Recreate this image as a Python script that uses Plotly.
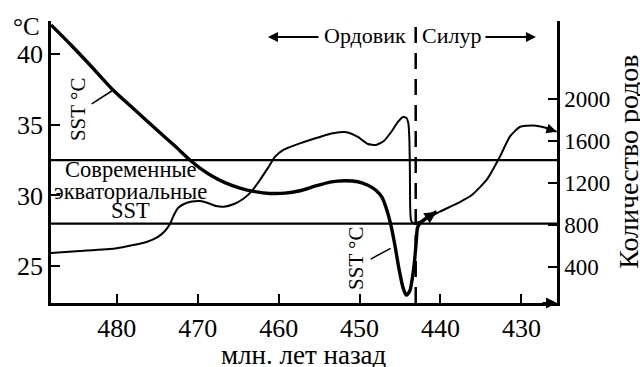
import plotly.graph_objects as go

# ---- data ----
sst_age = [488.13, 485.78, 483.31, 480.47, 477.75, 475.03, 472.81, 470.96, 469.72, 468.24,
           466.64, 464.78, 462.93, 461.08, 459.22, 457.37, 455.52, 453.67, 451.81, 450.21,
           448.97, 447.98, 447.24, 446.62, 446.13, 445.63, 445.14, 444.65, 444.22, 443.79,
           443.42, 443.17, 442.98, 442.85, 442.54, 441.55, 440.48]
sst_temp = [42.08, 40.73, 39.24, 37.47, 36.05, 34.63, 33.50, 32.51, 31.94, 31.38,
            30.91, 30.52, 30.27, 30.14, 30.16, 30.33, 30.65, 30.94, 31.04, 30.97,
            30.72, 30.37, 29.87, 28.95, 27.89, 26.47, 24.84, 23.50, 22.93, 23.22,
            24.35, 25.56, 26.84, 27.69, 28.02, 28.47, 28.84]

genus_age = [488.13, 484.55, 480.01, 476.31, 474.91, 474.05, 473.43, 472.94, 472.44, 471.70,
             470.71, 469.72, 468.73, 467.74, 466.76, 465.52, 464.40, 463.29, 462.31, 461.32,
             460.46, 459.47, 457.37, 454.90, 453.29, 451.60, 450.21, 448.97, 447.98, 446.99,
             446.00, 445.26, 444.64, 444.21, 443.96, 443.84, 443.78, 443.75, 443.65, 443.41,
             442.54, 440.07, 437.60, 436.12, 434.30, 432.66, 431.43, 430.19, 428.54, 426.89,
             425.66]
genus_count = [531, 550, 576, 636, 684, 741, 808, 894, 961, 999,
               1023, 1028, 1009, 980, 973, 999, 1047, 1124, 1229, 1344,
               1449, 1515, 1579, 1640, 1675, 1685, 1640, 1573, 1563, 1602,
               1697, 1783, 1831, 1822, 1765, 1610, 1324, 989, 846, 818,
               830, 926, 1018, 1085, 1229, 1451, 1643, 1735, 1750, 1726,
               1690]

x_ticks = [480, 470, 460, 450, 440, 430]
t_ticks = [25, 30, 35, 40]
g_ticks = [400, 800, 1200, 1600, 2000]
modern_sst_levels = [32.5, 28.0]
boundary_age = 443.06

X_RANGE = [488.13, 425.6]
T_RANGE = [22.375, 42.36]
G_RANGE = [53, 2748]

FONT = "Liberation Serif"

fig = go.Figure()
fig.add_trace(go.Scatter(x=sst_age, y=sst_temp, mode="lines", yaxis="y",
                         line=dict(color="black", width=3.4, shape="spline", smoothing=0.6),
                         showlegend=False, hoverinfo="skip"))
fig.add_trace(go.Scatter(x=genus_age, y=genus_count, mode="lines", yaxis="y2",
                         line=dict(color="black", width=2, shape="spline", smoothing=0.5),
                         showlegend=False, hoverinfo="skip"))

shapes = []
for lvl in modern_sst_levels:
    shapes.append(dict(type="line", xref="paper", yref="y", x0=0, x1=1, y0=lvl, y1=lvl,
                       line=dict(color="black", width=2.2)))
shapes.append(dict(type="line", xref="x", yref="paper", x0=boundary_age, x1=boundary_age,
                   y0=0, y1=0.979, line=dict(color="black", width=2.5, dash="16px,10px")))
# leader lines for labels
shapes.append(dict(type="line", xref="x", yref="y", x0=483.10, y0=36.48, x1=480.43, y1=37.47,
                   line=dict(color="black", width=1.5)))
shapes.append(dict(type="line", xref="x", yref="y", x0=448.63, y0=25.49, x1=446.16, y1=26.25,
                   line=dict(color="black", width=1.5)))

ann = []
def txt(x, y, s, size, xref="x", yref="y", angle=0, xanchor="center", yanchor="middle"):
    ann.append(dict(x=x, y=y, xref=xref, yref=yref, text=s, showarrow=False, textangle=angle,
                    xanchor=xanchor, yanchor=yanchor, font=dict(family=FONT, size=size, color="black")))

txt(478.25, 31.85, "Современные", 22.5)
txt(478.25, 30.25, "экваториальные", 22.5)
txt(478.25, 28.90, "SST", 22.5)
txt(484.79, 36.05, "SST °C", 21, angle=-90)
txt(450.36, 25.54, "SST °C", 21, angle=-90)
txt(444.03, 0.947, "Ордовик", 22, yref="paper", xanchor="right")
txt(442.54, 0.947, "Силур", 22, yref="paper", xanchor="left")
txt(-0.049, 0.98, "°C", 25, xref="paper", yref="paper")
# axis titles
txt(0.5, -0.186, "млн. лет назад", 27, xref="paper", yref="paper")
txt(1.14, 0.5, "Количество родов", 28, xref="paper", yref="paper", angle=-90)

def arrow(x, y, ax, ay, xref="x", yref="y", width=2, size=1.0, head=2):
    ann.append(dict(x=x, y=y, xref=xref, yref=yref, ax=ax, ay=ay, axref="pixel", ayref="pixel",
                    text="", showarrow=True, arrowhead=head, arrowsize=size, arrowwidth=width,
                    arrowcolor="black", standoff=0, startstandoff=0))

# period arrows
arrow(461.32, 0.943, 52, 0, yref="paper", width=2)
arrow(428.20, 0.943, -52, 0, yref="paper", width=2)
# x axis arrow
arrow(X_RANGE[1], 0, -16, 0, yref="paper", width=2.2)
# curve end arrows
arrow(genus_age[-1], genus_count[-1], -12, -4, yref="y2", width=2)
arrow(sst_age[-1], sst_temp[-1], -14, 9, width=2.4)

fig.update_layout(
    width=640, height=367,
    margin=dict(l=51, r=83, t=21, b=64),
    paper_bgcolor="white", plot_bgcolor="white",
    font=dict(family=FONT, color="black", size=24),
    showlegend=False,
    shapes=shapes,
    annotations=ann,
    xaxis=dict(range=X_RANGE, tickvals=x_ticks, ticktext=[str(v) for v in x_ticks],
               ticks="inside", ticklen=9, tickwidth=2.2, tickcolor="black",
               showline=True, linewidth=2.5, linecolor="black", showgrid=False, zeroline=False,
               tickfont=dict(family=FONT, size=26, color="black"), automargin=False),
    yaxis=dict(range=T_RANGE, tickvals=t_ticks, ticktext=[str(v) for v in t_ticks],
               ticks="inside", ticklen=9, tickwidth=2.2,
               tickcolor="black", showline=True, linewidth=2.5, linecolor="black",
               showgrid=False, zeroline=False,
               tickfont=dict(family=FONT, size=26, color="black"), automargin=False),
    yaxis2=dict(range=G_RANGE, tickvals=g_ticks, ticktext=[str(v) for v in g_ticks],
                overlaying="y", side="right", anchor="x",
                ticks="inside", ticklen=9, tickwidth=2.2, tickcolor="black",
                showline=True, linewidth=2.5, linecolor="black", showgrid=False, zeroline=False,
                tickfont=dict(family=FONT, size=23, color="black"), automargin=False),
)

fig.write_html("out.html")
